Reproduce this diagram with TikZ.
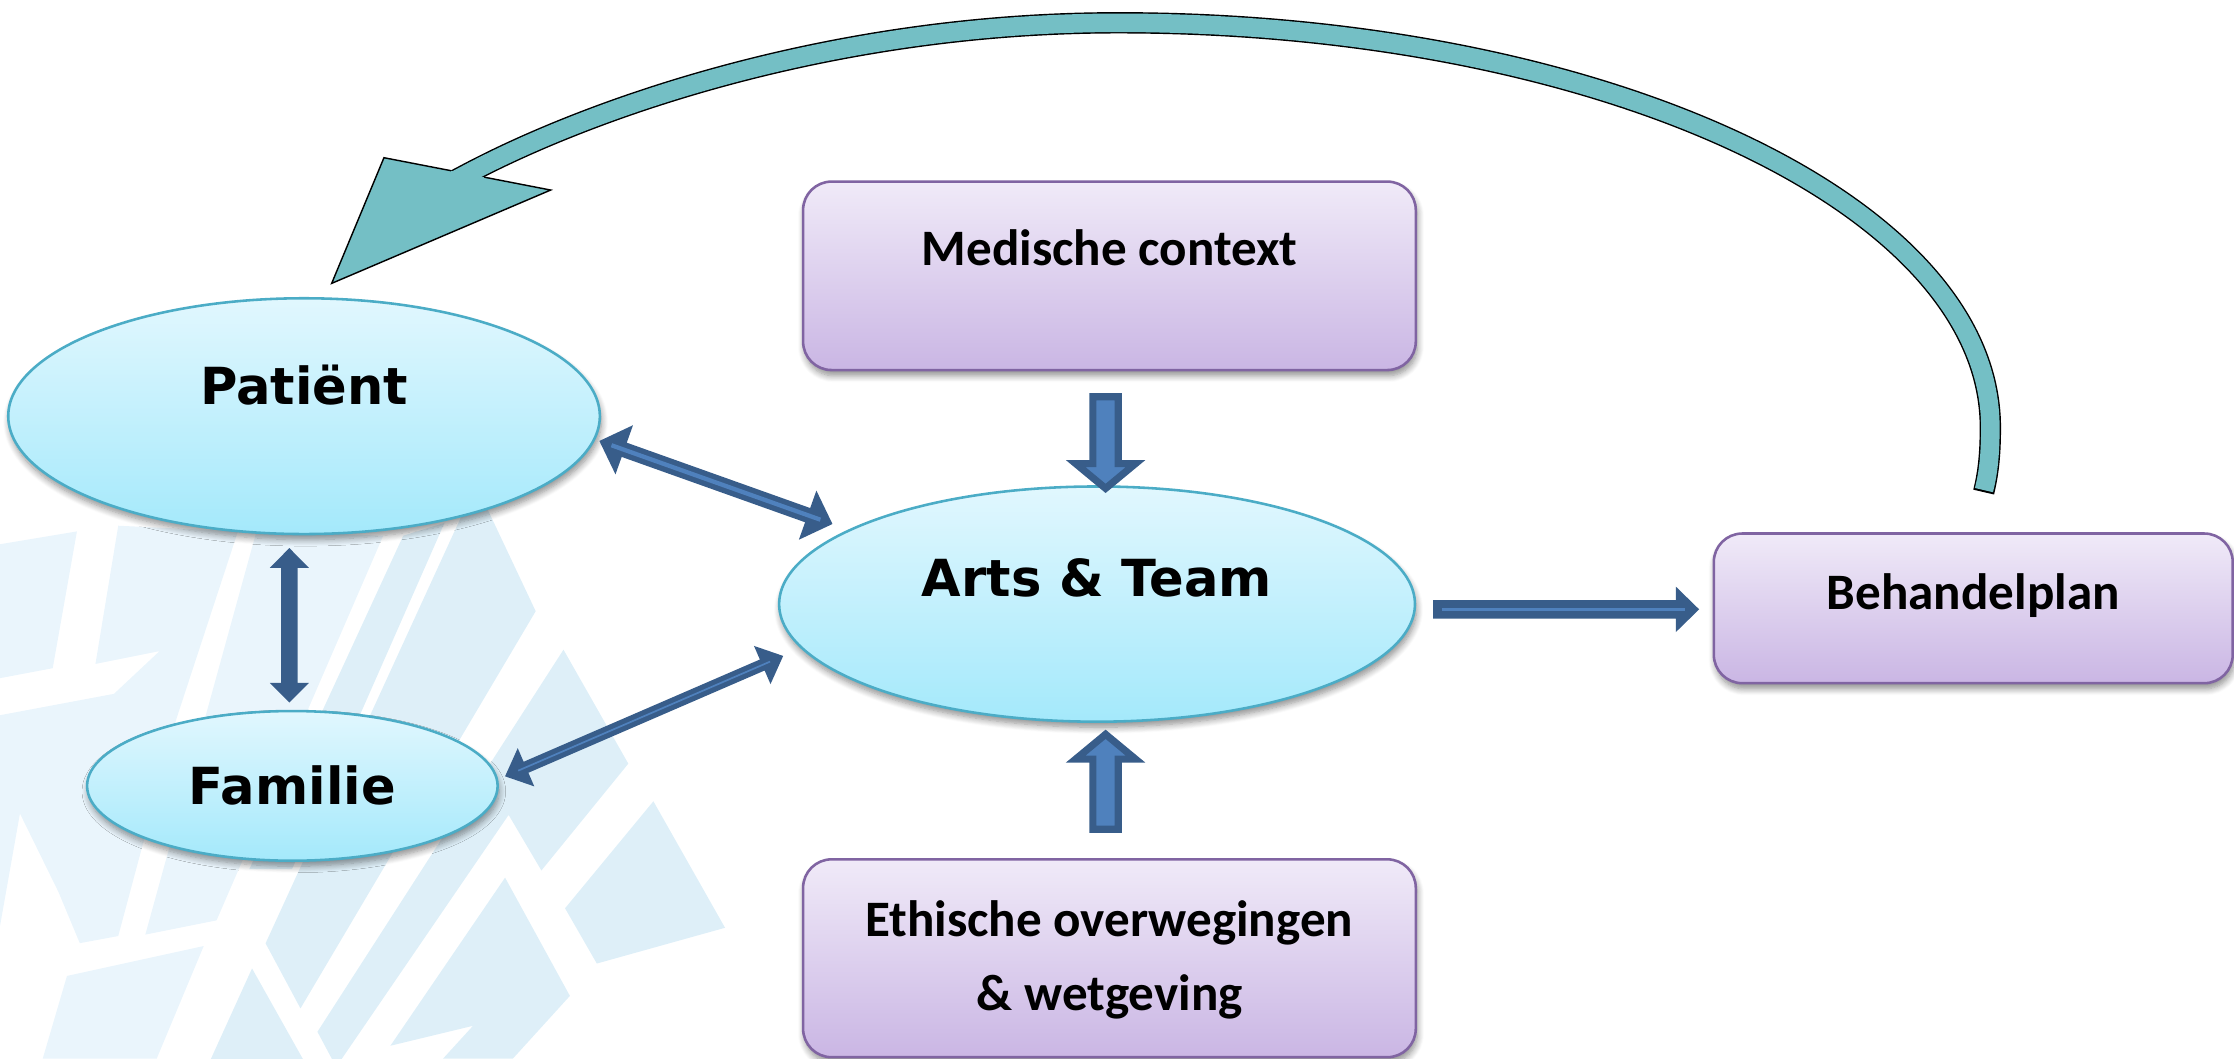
\documentclass[tikz,border=0pt]{standalone}
\usepackage{fontspec}
\newfontfamily\ellfont{DejaVu Sans}
\newfontfamily\boxfont{Carlito}
\usetikzlibrary{calc,shapes.geometric,shadows.blur}

\definecolor{arrdark}{RGB}{56,93,138}
\definecolor{arrlight}{RGB}{79,129,189}
\definecolor{tealarr}{RGB}{116,191,197}
\definecolor{elltop}{RGB}{225,247,254}
\definecolor{ellbot}{RGB}{164,233,251}
\definecolor{ellborder}{RGB}{75,172,198}
\definecolor{boxtop}{RGB}{240,234,248}
\definecolor{boxbot}{RGB}{202,182,228}
\definecolor{boxborder}{RGB}{128,100,162}
\definecolor{bglight}{RGB}{234,245,252}
\definecolor{bgdark}{RGB}{222,239,248}

% single-headed block arrow: #1 start, #2 tip, #3 half shaft, #4 half head, #5 head length, #6 style
\newcommand\blockarrow[6]{%
  \coordinate (bah) at ($(#2)!#5!(#1)$);
  \path[#6] ($(#1)!#3!90:(#2)$) -- ($(bah)!#3!-90:(#1)$) -- ($(bah)!#4!-90:(#1)$) -- (#2)
    -- ($(bah)!#4!90:(#1)$) -- ($(bah)!#3!90:(#1)$) -- ($(#1)!#3!-90:(#2)$) -- cycle;
}
% double-headed block arrow: #1 tip A, #2 tip B, #3 half shaft, #4 half head, #5 head length, #6 style
\newcommand\dblarrow[6]{%
  \coordinate (dah1) at ($(#1)!#5!(#2)$);
  \coordinate (dah2) at ($(#2)!#5!(#1)$);
  \path[#6] (#1) -- ($(dah1)!#4!90:(#2)$) -- ($(dah1)!#3!90:(#2)$) -- ($(dah2)!#3!-90:(#1)$)
    -- ($(dah2)!#4!-90:(#1)$) -- (#2) -- ($(dah2)!#4!90:(#1)$) -- ($(dah2)!#3!90:(#1)$)
    -- ($(dah1)!#3!-90:(#2)$) -- ($(dah1)!#4!-90:(#2)$) -- cycle;
}

\tikzset{
  softshadow/.style={blur shadow={shadow xshift=0.3pt, shadow yshift=-1.1pt,
      shadow blur radius=1.3pt, shadow blur steps=8, shadow opacity=45}},
  ellnode/.style={ellipse, draw=ellborder, line width=0.018cm, top color=elltop,
      bottom color=ellbot, inner sep=0pt, softshadow,
      font=\ellfont\bfseries\fontsize{10.2}{12}\selectfont},
  boxnode/.style={rectangle, rounded corners=0.2cm, draw=boxborder, line width=0.018cm,
      top color=boxtop, bottom color=boxbot, inner sep=0pt, softshadow,
      font=\boxfont\bfseries\fontsize{10.2}{12}\selectfont},
  boxtext/.style={inner sep=0pt, font=\boxfont\bfseries\fontsize{10.2}{12}\selectfont},
  blockstyle/.style={fill=arrlight, draw=arrdark, line width=0.05cm, line join=miter},
  darkarrow/.style={fill=arrdark},
}

\begin{document}
\begin{tikzpicture}[x=0.01cm, y=-0.01cm]
\useasboundingbox (0,0) rectangle (1568,743);

% ---- faint background pattern ----
\fill[bglight] (0,382) -- (54,373) -- (37,469) -- (0,476) -- cycle;
\fill[bglight] (83,369) -- (167,373) -- (124,504) -- (83,657) -- (56,662) -- (41,626)
   -- (14,571) -- (0,650) -- (0,502) -- (80,487) -- (112,457) -- (67,466) -- cycle;
\fill[bglight] (180,373) -- (269,376) -- (152,646) -- (102,656) -- cycle;
\fill[bglight] (47,685) -- (143,664) -- (110,743) -- (30,743) -- cycle;
\fill[bgdark] (283,376) -- (312,367) -- (205,610) -- (175,610) -- cycle;
\fill[bgdark] (324,362) -- (342,357) -- (376,429) -- (210.9,707.8) -- (186.4,662.1) -- cycle;
\fill[bgdark] (395.5,456) -- (441,536) -- (380,611) -- (357,572) -- (239.8,743.3)
   -- (233,743.3) -- (222.8,724.2) -- cycle;
\fill[bgdark] (176.9,679.7) -- (212.6,743.3) -- (148,743.3) -- cycle;
\fill[bgdark] (458.6,562.4) -- (508.9,651.2) -- (418.9,676.3) -- (396.6,637.5) -- cycle;
\fill[bgdark] (354.5,616) -- (400,699) -- (360,743) -- (311,743) -- (332,720) -- (274,734) -- cycle;

% ---- nodes ----
\node[ellnode, minimum width=4.15cm, minimum height=1.654cm, text height=7.6pt, text depth=12.44pt]
  (pat) at (213.4,292.1) {Patiënt};
\node[ellnode, minimum width=4.46cm, minimum height=1.65cm, text height=7.6pt, text depth=10.56pt]
  (arts) at (770,424) {Arts \& Team};
\node[ellnode, minimum width=2.88cm, minimum height=1.05cm, text height=7.62pt, text depth=0pt]
  (fam) at (205.2,551.6) {Familie};
\node[boxnode, minimum width=4.298cm, minimum height=1.322cm, text height=6.6pt, text depth=10.92pt]
  (med) at (778.7,193.6) {Medische context};
\node[boxnode, minimum width=4.298cm, minimum height=1.388cm] (eth) at (778.7,672.6) {};
\node[boxtext, anchor=base] (eth1) at (778.5,657.4) {Ethische overwegingen};
\node[boxtext, anchor=base] (eth2) at (779,709) {\& wetgeving};
\node[boxnode, minimum width=3.64cm, minimum height=1.05cm, text height=6.6pt, text depth=6.2pt]
  (beh) at (1385,427) {Behandelplan};

% ---- connector end points ----
\coordinate (pf1) at (203.1,384.7);
\coordinate (pf2) at (203.1,493.1);
\coordinate (pa1) at (420.7,309.5);
\coordinate (pa2) at (584.3,367.8);
\coordinate (fa1) at (354.5,544.9);
\coordinate (fa2) at (549.7,460.4);
\coordinate (ma1) at (776,278.5);
\coordinate (ma2) at (776,342.8);
\coordinate (ea1) at (776,582);
\coordinate (ea2) at (776,515.4);
\coordinate (ab1) at (1005.8,427.7);
\coordinate (ab2) at (1192.6,427.7);

% Patient <-> Familie
\dblarrow{pf1}{pf2}{0.0585cm}{0.137cm}{0.138cm}{darkarrow}
% Patient <-> Arts
\dblarrow{pa1}{pa2}{0.053cm}{0.183cm}{0.185cm}{darkarrow}
\draw[arrlight, line width=0.03cm, shorten <=0.09cm, shorten >=0.09cm] (pa1) -- (pa2);
% Familie <-> Arts
\dblarrow{fa1}{fa2}{0.042cm}{0.146cm}{0.16cm}{darkarrow}
\draw[arrlight, line width=0.012cm, shorten <=0.1cm, shorten >=0.1cm] (fa1) -- (fa2);
% Medische context -> Arts
\blockarrow{ma1}{ma2}{0.089cm}{0.21cm}{0.174cm}{blockstyle}
% Ethische -> Arts
\blockarrow{ea1}{ea2}{0.089cm}{0.21cm}{0.174cm}{blockstyle}
% Arts -> Behandelplan
\blockarrow{ab1}{ab2}{0.065cm}{0.16cm}{0.164cm}{darkarrow}
\draw[arrlight, line width=0.02cm, shorten <=0.06cm, shorten >=0.1cm] (ab1) -- (ab2);

% ---- curved feedback arrow Behandelplan -> Patient ----
\coordinate (cb) at (1392.5,344);
\coordinate (cbb) at (1392.3,345.4);
\coordinate (ctop) at (785,16);
\coordinate (cend) at (317,127.8);
\coordinate (ctip) at (232.8,198.9);
\coordinate (clb) at (269.5,110.7);
\coordinate (crb) at (386.5,133.4);
\coordinate (cj1) at (316.5,119.8);
\coordinate (cj2) at (339.9,124.35);
\draw[black, line width=0.15cm] (cbb) .. controls (1395,334) and (1397,322) .. (1397,300)
  .. controls (1397,143) and (1123,16) .. (ctop)
  .. controls (585,16) and (416.4,75.2) .. (328,122) -- (cend);
\draw[tealarr, line width=0.13cm] (cb) .. controls (1395,334) and (1397,322) .. (1397,300)
  .. controls (1397,143) and (1123,16) .. (ctop)
  .. controls (585,16) and (416.4,75.2) .. (328,122) -- (cend);
\fill[tealarr] (clb) -- (ctip) -- (crb) -- cycle;
\draw[black, line width=0.01cm, line join=miter] (cj1) -- (clb) -- (ctip) -- (crb) -- (cj2);
\end{tikzpicture}
\end{document}
